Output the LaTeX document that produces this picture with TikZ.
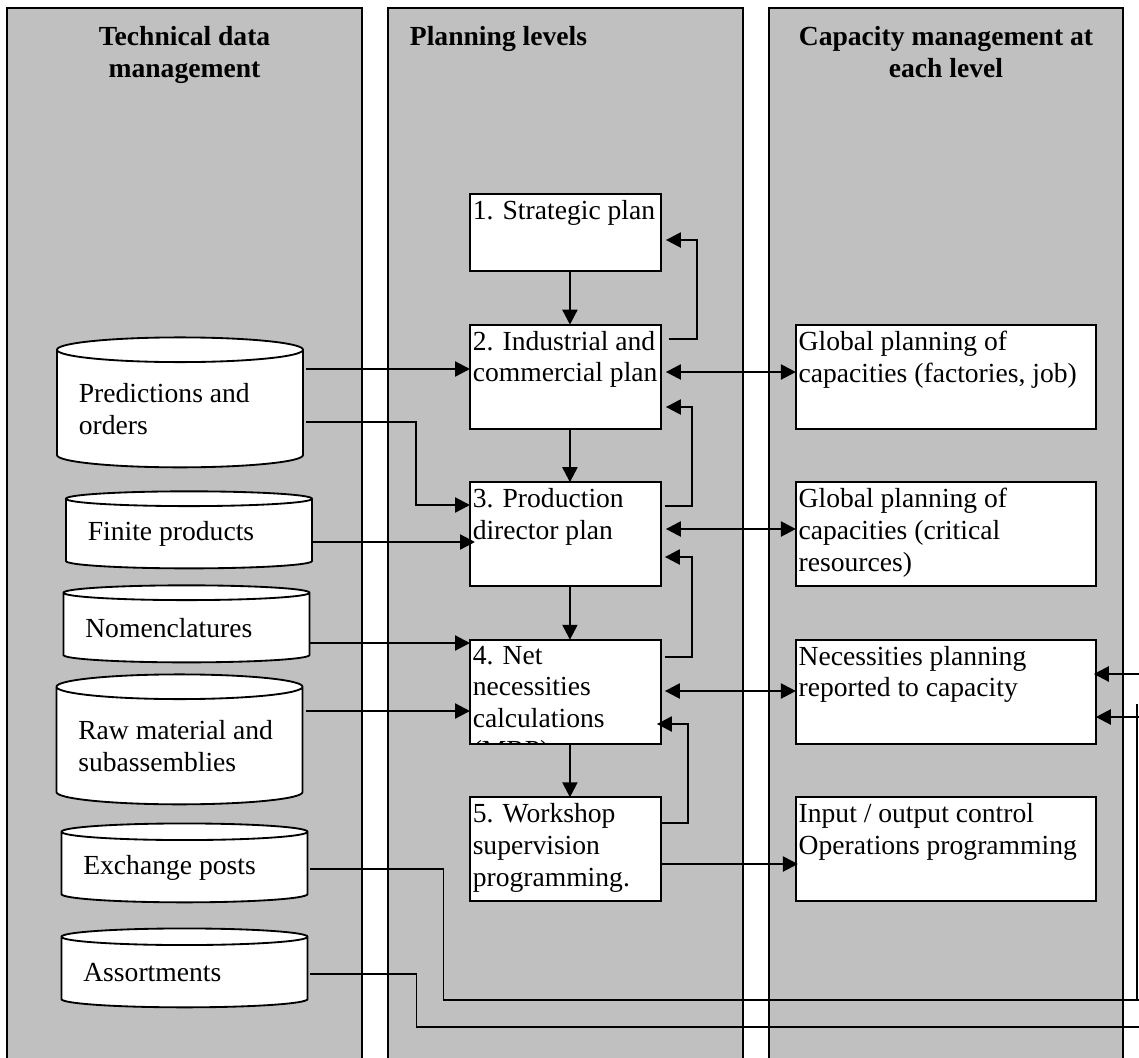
\documentclass[tikz,border=0pt]{standalone}
\usepackage{fontspec}
\setmainfont{Liberation Serif}
\usetikzlibrary{arrows.meta,positioning,shapes.geometric,calc}
\definecolor{panelgray}{RGB}{192,192,192}

\begin{document}
\begin{tikzpicture}[
  x=0.4348pt, y=-0.4348pt,
  font=\fontsize{12}{13.8}\selectfont,
  panel/.style={draw, line width=0.9pt, fill=panelgray},
  head/.style={font=\fontsize{12}{13.8}\selectfont\bfseries, align=center, anchor=north, inner sep=0pt},
  plan/.style={rectangle, draw, line width=0.8pt, fill=white, minimum width=83pt, minimum height=45.2pt, inner sep=0pt, outer sep=0pt},
  capbox/.style={plan, minimum width=130.4pt},
  boxtext/.style={anchor=north west, inner xsep=1pt, inner ysep=2.5pt, align=left},
  db/.style={cylinder, shape border rotate=90, draw, line width=0.8pt, fill=white, minimum width=107pt, inner sep=0pt, outer sep=0pt, text width=88pt, align=flush left},
  link/.style={-{Triangle[length=6.5pt,width=6.5pt]}, line width=1pt},
  bilink/.style={{Triangle[length=6.5pt,width=6.5pt]}-{Triangle[length=6.5pt,width=6.5pt]}, line width=1pt},
  route/.style={line width=0.7pt},
]
  \useasboundingbox (0,0) rectangle (1139,1057);
  \clip (0,0) rectangle (1139,1057);

  % Columns
  \foreach \xl/\xr in {7/362, 388/743, 769/1123}
    \draw[panel] (\xl,8) rectangle (\xr,1075);

  \node[head] (h1) at (184.5,26) {Technical data\\management};
  \node[head, anchor=north west] (h2) at (409.5,26) {Planning levels};
  \node[head] (h3) at (946,26) {Capacity management at\\each level};

  % Planning levels
  \node[plan, minimum height=33.5pt, anchor=north west, label={[boxtext]north west:1. Strategic plan}] (s1) at (470,194) {};
  \node[plan, below=23.3pt of s1, label={[boxtext]north west:{2. Industrial and\\commercial plan}}] (s2) {};
  \node[plan, below=23.3pt of s2, label={[boxtext]north west:{3. Production\\director plan}}] (s3) {};
  \node[plan, below=23.3pt of s3] (s4) {};
  \begin{scope}
    \clip (s4.south west) rectangle (s4.north east);
    \node[boxtext] (s4t) at (s4.north west) {4. Net\\necessities\\calculations\\(MRP)};
  \end{scope}
  \node[plan, below=23.3pt of s4, label={[boxtext]north west:{5. Workshop\\supervision\\programming.}}] (s5) {};

  % Capacity management
  \node[capbox, right=58.7pt of s2, label={[boxtext]north west:{Global planning of\\capacities (factories, job)}}] (c1) {};
  \node[capbox, right=58.7pt of s3, label={[boxtext]north west:{Global planning of\\capacities (critical\\resources)}}] (c2) {};
  \node[capbox, right=58.7pt of s4, label={[boxtext]north west:{Necessities planning\\reported to capacity}}] (c3) {};
  \node[capbox, right=58.7pt of s5, label={[boxtext]north west:{Input / output control\\Operations programming}}] (c4) {};

  % Technical data
  \node[db, minimum height=56.5pt, aspect=0.122] (pred) at (180,409) {Predictions and\\orders};
  \node[db, minimum height=33.5pt, aspect=0.073] (fin) at (189,534) {Finite products};
  \node[db, minimum height=33.5pt, aspect=0.073] (nom) at (186.5,628) {Nomenclatures};
  \node[db, minimum height=56.5pt, aspect=0.122] (raw) at (179.5,746) {Raw material and\\subassemblies};
  \node[db, minimum height=34.3pt, aspect=0.082] (exch) at (184.5,867.5) {Exchange posts};
  \node[db, minimum height=34.3pt, aspect=0.082] (asrt) at (184.5,972.5) {Assortments};

  % Level to level
  \foreach \a/\b in {s1/s2, s2/s3, s3/s4, s4/s5}
    \draw[link] ($(\a.south)+(4.5,0)$) -- ($(\b.north)+(4.5,0)$);

  % Feedback
  \draw[link] ($(s2.east|-0,339)+(8,0)$) -- ++(28,0) |- ($(s1.east|-0,240)+(5,0)$);
  \draw[link] ($(s3.east|-0,506)+(4,0)$) -- ++(27,0) |- ($(s2.east|-0,407)+(5,0)$);
  \draw[link] ($(s4.east|-0,657)+(4,0)$) -- ++(27,0) |- ($(s3.east|-0,557)+(4,0)$);
  \draw[link] (s5.east|-0,823) -- ++(27,0) |- ($(s4.east|-0,724)+(-4,0)$);

  % Levels to capacity
  \draw[bilink] ($(s2.east|-0,372)+(5,0)$) -- (c1.west|-0,372);
  \draw[bilink] ($(s3.east|-0,529)+(5,0)$) -- (c2.west|-0,529);
  \draw[bilink] ($(s4.east|-0,691)+(4,0)$) -- (c3.west|-0,691);
  \draw[link] (s5.east|-0,864) -- ($(c4.west|-0,864)+(2,0)$);

  % Data to levels
  \draw[link] ($(pred.east|-0,369)+(3,0)$) -- (s2.west|-0,369);
  \draw[link] ($(pred.east|-0,422)+(3,0)$) -- ++(110,0) |- (s3.west|-0,505);
  \draw[link] (fin.east|-0,542) -- ($(s3.west|-0,542)+(5,0)$);
  \draw[link] (nom.east|-0,643) -- (s4.west|-0,643);
  \draw[link] ($(raw.east|-0,711)+(3,0)$) -- (s4.west|-0,711);

  % Long routes
  \coordinate (exchEnd) at (1145,1000);
  \coordinate (asrtEnd) at (1145,1027);
  \coordinate (riseB) at (1137,1000);
  \coordinate (riseT) at (1137,704);
  \coordinate (inA) at (1145,674);
  \coordinate (inB) at (1145,717);
  \draw[route] ($(exch.east|-0,869)+(2,0)$) -- ++(134,0) |- (exchEnd);
  \draw[route] (riseB) -- (riseT);
  \draw[route] ($(asrt.east|-0,974)+(2,0)$) -- ++(107,0) |- (asrtEnd);
  \draw[link] (inA) -- ($(c3.east|-0,674)+(-2,0)$);
  \draw[link] (inB) -- (c3.east|-0,717);
\end{tikzpicture}
\end{document}
